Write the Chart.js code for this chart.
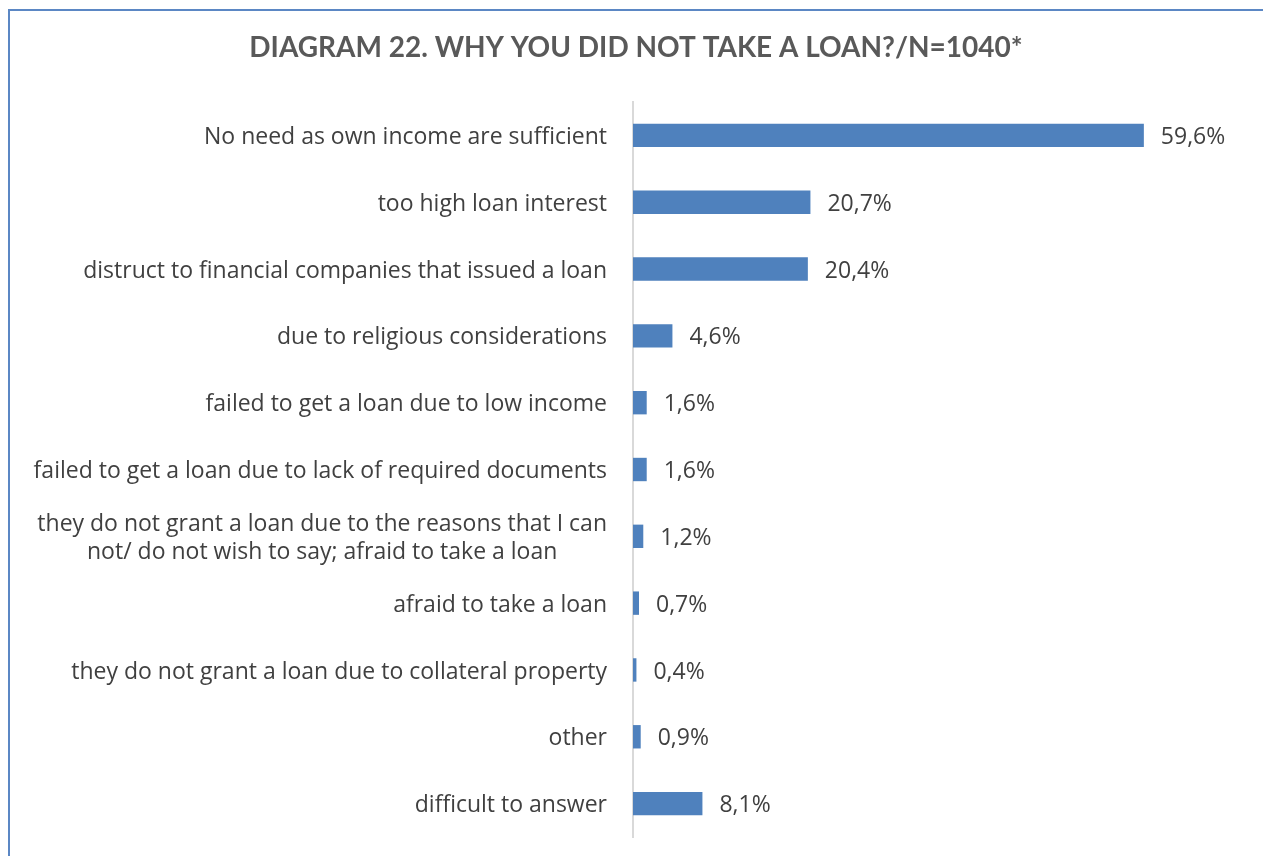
<!DOCTYPE html>
<html>
<head>
<meta charset="utf-8">
<script src="https://cdn.jsdelivr.net/npm/chart.js@4"></script>
<style>
  html, body { margin: 0; padding: 0; background: #fff; }
  #wrap { position: relative; width: 1263px; height: 856px; overflow: hidden; }
  #frame { position: absolute; left: 8px; top: 9px; width: 1300px; height: 900px;
           border-left: 2px solid #5B87C4; border-top: 2px solid #5B87C4; box-sizing: border-box; }
  canvas { position: absolute; left: 0; top: 0; }
</style>
</head>
<body>
<div id="wrap">
  <div id="frame"></div>
  <canvas id="c" width="1263" height="856"></canvas>
</div>
<script>
const title = 'DIAGRAM 22. WHY YOU DID NOT TAKE A LOAN?/N=1040*';
const categories = [
  ['No need as own income are sufficient'],
  ['too high loan interest'],
  ['distruct to financial companies that issued a loan'],
  ['due to religious considerations'],
  ['failed to get a loan due to low income'],
  ['failed to get a loan due to lack of required documents'],
  ['they do not grant a loan due to the reasons that I can', 'not/ do not wish to say; afraid to take a loan'],
  ['afraid to take a loan'],
  ['they do not grant a loan due to collateral property'],
  ['other'],
  ['difficult to answer']
];
const values = [59.6, 20.7, 20.4, 4.6, 1.6, 1.6, 1.2, 0.7, 0.4, 0.9, 8.1];

const LABEL_FONT = '23px "Open Sans"';
const TEXT_COLOR = '#404040';

const labelsPlugin = {
  id: 'customLabels',
  afterDatasetsDraw(chart) {
    const ctx = chart.ctx;
    const yScale = chart.scales.y;
    const meta = chart.getDatasetMeta(0);
    ctx.save();
    // title
    ctx.font = 'bold 28px Lato';
    ctx.fillStyle = '#595959';
    ctx.textAlign = 'center';
    ctx.textBaseline = 'middle';
    ctx.fillText(title, 636, 48);
    // category labels
    ctx.font = LABEL_FONT;
    ctx.fillStyle = TEXT_COLOR;
    const right = chart.chartArea.left - 26;
    const lh = 28;
    const dy = 2;
    categories.forEach((lines, i) => {
      const yc = yScale.getPixelForValue(i) + dy;
      const widths = lines.map(l => ctx.measureText(l).width);
      const maxW = Math.max(...widths);
      const cx = right - maxW / 2;
      lines.forEach((l, j) => {
        const y = yc + (j - (lines.length - 1) / 2) * lh;
        ctx.textAlign = lines.length > 1 ? 'center' : 'right';
        ctx.fillText(l, lines.length > 1 ? cx : right, y);
      });
    });
    // value labels
    ctx.textAlign = 'left';
    meta.data.forEach((bar, i) => {
      const txt = values[i].toFixed(1).replace('.', ',') + '%';
      ctx.fillText(txt, bar.x + 17, bar.y + dy);
    });
    ctx.restore();
  }
};

new Chart(document.getElementById('c'), {
  type: 'bar',
  data: {
    labels: categories,
    datasets: [{
      data: values,
      backgroundColor: '#4F81BD',
      borderWidth: 0,
      barPercentage: 0.35,
      categoryPercentage: 1.0
    }]
  },
  options: {
    indexAxis: 'y',
    responsive: false,
    animation: false,
    events: [],
    layout: { padding: { left: 0, right: 30, top: 102, bottom: 19 } },
    plugins: { legend: { display: false }, tooltip: { enabled: false }, title: { display: false } },
    scales: {
      x: { display: false, min: 0, max: 70 },
      y: {
        grid: { display: false, drawTicks: false },
        border: { display: true, color: '#D9D9D9', width: 2 },
        ticks: { display: false },
        afterFit(scale) { scale.width = 633; }
      }
    }
  },
  plugins: [labelsPlugin]
});
</script>
</body>
</html>
